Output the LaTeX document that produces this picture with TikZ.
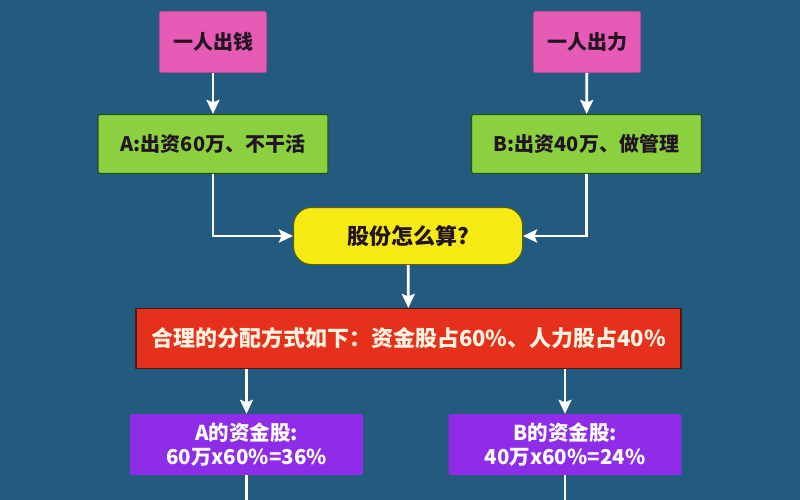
\documentclass[tikz,border=0pt]{standalone}
\usepackage{fontspec}
\newfontfamily\cjk{Noto Sans CJK SC}
\usetikzlibrary{arrows.meta}
\definecolor{bgblue}{RGB}{35,90,127}
\definecolor{pinkbox}{RGB}{229,91,181}
\definecolor{greenbox}{RGB}{139,209,63}
\definecolor{greenline}{RGB}{40,80,25}
\definecolor{yellowbox}{RGB}{245,234,20}
\definecolor{redbox}{RGB}{229,49,28}
\definecolor{redline}{RGB}{80,25,15}
\definecolor{purplebox}{RGB}{142,44,232}
\definecolor{darktext}{RGB}{35,20,35}
\definecolor{lighttext}{RGB}{255,243,225}
\begin{document}
\begin{tikzpicture}[x=1pt, y=-1pt,
  box/.style={inner sep=0pt, font=\cjk\bfseries\fontsize{20}{24}\selectfont, align=center},
  pinkbox/.style={box, fill=pinkbox, draw=pinkbox!80!black, line width=0.6pt, rounded corners=2pt,
    minimum width=107pt, minimum height=61pt, text=darktext},
  greenbox/.style={box, fill=greenbox, draw=greenline, line width=1.2pt, rounded corners=2pt,
    minimum width=230pt, minimum height=59pt, text=darktext},
  askbox/.style={box, fill=yellowbox, draw=yellowbox!40!black, line width=1pt, rounded corners=18pt,
    minimum width=229pt, minimum height=57pt, text=darktext, font=\cjk\bfseries\fontsize{22}{26}\selectfont},
  rulebox/.style={box, fill=redbox, draw=redline, line width=1.2pt,
    minimum width=545pt, minimum height=60pt, text=lighttext, font=\cjk\bfseries\fontsize{22}{26}\selectfont},
  sharebox/.style={box, fill=purplebox, rounded corners=2pt,
    minimum width=233pt, minimum height=61pt, text=white, font=\cjk\bfseries\fontsize{20.5}{24}\selectfont},
  flow/.style={draw=white, line width=2.8pt, -{Stealth[length=14pt, width=13pt, inset=2.5pt]}},
  tail/.style={draw=white, line width=2.8pt}]

\fill[bgblue] (0,0) rectangle (800,500);
\useasboundingbox (0,0) rectangle (800,500);

\node[pinkbox] (money) at (213,42) {一人出钱};
\node[pinkbox] (labor) at (587,42) {一人出力};

\node[greenbox] (partA) at (213,144) {A:出资60万、不干活};
\node[greenbox] (partB) at (586.5,144) {B:出资40万、做管理};

\node[askbox] (ask) at (408,236) {股份怎么算?};

\node[rulebox] (rule) at (408.5,338.5) {合理的分配方式如下：资金股占60\%、人力股占40\%};

\node[sharebox] (shareA) at (246.5,444.5) {A的资金股:\\60万x60\%=36\%};
\node[sharebox] (shareB) at (565,444.5) {B的资金股:\\40万x60\%=24\%};

\coordinate (endA) at (246.5,500);
\coordinate (endB) at (565,500);

\draw[flow] (money) -- (partA);
\draw[flow] (labor) -- (partB);
\draw[flow] (partA.south) |- (ask.west);
\draw[flow] (partB.south) |- (ask.east);
\draw[flow] (ask) -- (rule);
\draw[flow] (shareA.north |- rule.south) -- (shareA.north);
\draw[flow] (shareB.north |- rule.south) -- (shareB.north);
\draw[tail] (shareA.south) -- (endA);
\draw[tail] (shareB.south) -- (endB);

\end{tikzpicture}
\end{document}
